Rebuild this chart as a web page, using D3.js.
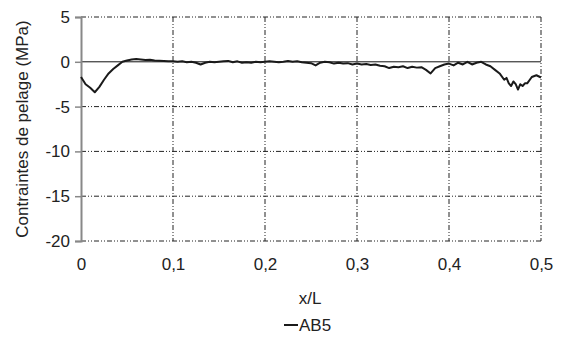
<!DOCTYPE html>
<html><head><meta charset="utf-8">
<script src="https://cdn.jsdelivr.net/npm/d3@7"></script>
<style>body{margin:0;background:#fff}svg{display:block}text{font-family:"Liberation Sans",Arial,Helvetica,sans-serif;fill:#222}</style>
</head><body><svg id="c" width="561" height="337"></svg>
<script>
const xTicks = [0, 0.1, 0.2, 0.3, 0.4, 0.5];
const xTickLabels = ["0", "0,1", "0,2", "0,3", "0,4", "0,5"];
const yTicks = [5, 0, -5, -10, -15, -20];
const seriesName = "AB5";
const xValues = [0,0.005,0.01,0.015,0.02,0.025,0.03,0.035,0.04,0.045,0.05,0.055,0.06,0.065,0.07,0.075,0.08,0.085,0.09,0.095,
0.1,0.105,0.11,0.115,0.12,0.125,0.13,0.135,0.14,0.145,0.15,0.155,0.16,0.165,0.17,0.175,0.18,0.185,0.19,0.195,
0.2,0.205,0.21,0.215,0.22,0.225,0.23,0.235,0.24,0.245,0.25,0.255,0.26,0.265,0.27,0.275,0.28,0.285,0.29,0.295,
0.3,0.305,0.31,0.315,0.32,0.325,0.33,0.335,0.34,0.345,0.35,0.355,0.36,0.365,0.37,0.375,0.38,0.385,0.39,0.395,
0.4,0.405,0.41,0.415,0.42,0.425,0.43,0.435,0.44,0.445,0.45,0.455,0.46,0.4625,0.465,0.4675,0.47,0.4725,0.475,0.4775,0.48,0.4825,0.485,0.49,0.495,0.5];
const yValues = [-1.7,-2.5,-2.9,-3.4,-2.8,-2.0,-1.3,-0.8,-0.4,0.0,0.15,0.25,0.3,0.25,0.2,0.22,0.15,0.12,0.1,0.05,
0.05,0.0,0.05,-0.05,0.0,-0.1,-0.3,-0.1,0.0,-0.05,0.0,0.05,0.1,-0.05,0.05,-0.1,-0.05,-0.1,0.0,-0.05,
0.0,0.05,0.0,-0.05,0.0,0.1,0.0,0.05,-0.05,-0.1,-0.15,-0.4,-0.1,0.0,-0.05,-0.2,-0.1,-0.2,-0.15,-0.3,
-0.2,-0.3,-0.25,-0.35,-0.3,-0.45,-0.5,-0.7,-0.55,-0.6,-0.5,-0.7,-0.55,-0.65,-0.6,-0.9,-1.3,-0.7,-0.5,-0.3,
-0.2,-0.4,-0.1,-0.3,0.0,-0.3,-0.1,0.0,-0.3,-0.5,-0.9,-1.3,-2.0,-1.8,-2.4,-2.7,-2.2,-2.5,-3.1,-2.5,-2.7,-2.4,-2.4,-1.7,-1.5,-1.75];

const svg = d3.select("#c");
const x = d3.scaleLinear().domain([0, 0.5]).range([81, 541]);
const y = d3.scaleLinear().domain([-20, 5]).range([241, 17]);
const fs = "17px";

const dash = "5,2,1,2,1,2";
svg.append("g").selectAll("line").data(yTicks.filter(d => d !== 0)).join("line")
  .attr("x1", x(0)).attr("x2", x(0.5)).attr("y1", d => y(d)).attr("y2", d => y(d))
  .attr("stroke", "#222").attr("stroke-width", 1).attr("stroke-dasharray", dash);
svg.append("g").selectAll("line").data(xTicks.filter(d => d !== 0)).join("line")
  .attr("x1", d => x(d)).attr("x2", d => x(d)).attr("y1", y(5)).attr("y2", y(-20))
  .attr("stroke", "#222").attr("stroke-width", 1).attr("stroke-dasharray", dash);

svg.append("line").attr("x1", x(0)).attr("x2", x(0.5)).attr("y1", y(0)).attr("y2", y(0))
  .attr("stroke", "#111").attr("stroke-width", 1);

const yAxis = d3.axisLeft(y).tickValues(yTicks).tickSize(6).tickPadding(5).tickFormat(d3.format("d"));
const gy = svg.append("g").attr("transform", `translate(${x(0)},0)`).call(yAxis);
gy.select(".domain").attr("stroke", "#888").attr("stroke-width", 2);
gy.selectAll(".tick line").attr("stroke", "#888").attr("stroke-width", 1.5);
gy.selectAll(".tick text").style("font-size", fs).attr("fill", "#222")
  .text(d => d < 0 ? "-" + Math.abs(d) : d);

const xAxis = d3.axisBottom(x).tickValues(xTicks).tickSize(0).tickPadding(17).tickFormat((d, i) => xTickLabels[i]);
const gx = svg.append("g").attr("transform", `translate(0,${y(-20)})`).call(xAxis);
gx.select(".domain").remove();
gx.selectAll(".tick text").style("font-size", fs).attr("fill", "#222");

const data = xValues.map((d, i) => [d, yValues[i]]);
svg.append("path").datum(data)
  .attr("d", d3.line().x(d => x(d[0])).y(d => y(d[1])))
  .attr("fill", "none").attr("stroke", "#1a1a1a").attr("stroke-width", 2).attr("stroke-linejoin", "round");

svg.append("text").attr("x", 310).attr("y", 304).attr("text-anchor", "middle").style("font-size", fs).text("x/L");
svg.append("text").attr("transform", "translate(28,129) rotate(-90)").attr("text-anchor", "middle")
  .style("font-size", fs).text("Contraintes de pelage (MPa)");

svg.append("line").attr("x1", 284).attr("x2", 298).attr("y1", 325).attr("y2", 325).attr("stroke", "#1a1a1a").attr("stroke-width", 2);
svg.append("text").attr("x", 299).attr("y", 331).style("font-size", fs).text(seriesName);
</script></body></html>
